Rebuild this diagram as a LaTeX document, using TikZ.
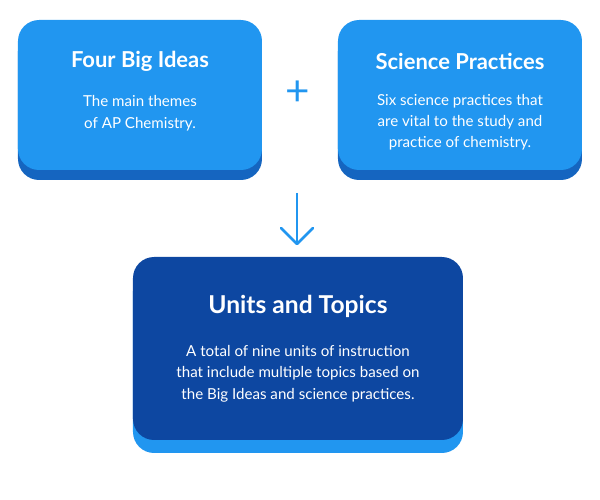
\documentclass[tikz,border=0pt]{standalone}
\usepackage{fontspec}
\setmainfont{Lato}
\usetikzlibrary{positioning}
\definecolor{lightblue}{HTML}{2196F0}
\definecolor{midblue}{HTML}{1565C0}
\definecolor{darkblue}{HTML}{0D47A1}

\begin{document}
\begin{tikzpicture}[x=0.02cm,y=-0.02cm]
	\tikzstyle{card}=[rounded corners=12pt, inner sep=0pt]
	\tikzstyle{title}=[text=white, font=\fontsize{12.5}{14}\selectfont\bfseries]
	\tikzstyle{body}=[text=white, align=center, font=\fontsize{8.6}{12.2}\selectfont]
	\useasboundingbox (0,0) rectangle (600,500);
	% top boxes
	\fill [card, midblue] (18,30) rectangle (262,180);
	\fill [card, lightblue] (18,20) rectangle (262,170);
	\fill [card, midblue] (338,30) rectangle (582,180);
	\fill [card, lightblue] (338,20) rectangle (582,170);
	\node [title] (ideas) at (140,61) {Four Big Ideas};
	\node [body, below=7pt of ideas] (ideastext) {The main themes\\of AP Chemistry.};
	\node [title] (practices) at (460,61) {Science Practices};
	\node [body, below=7pt of practices] (practicestext) {Six science practices that\\are vital to the study and\\practice of chemistry.};
	\node [text=lightblue, font=\fontsize{24}{24}\selectfont] (plus) at (298,93) {+};
	% bottom box
	\fill [card, lightblue] (133,270) rectangle (463,453);
	\fill [card, darkblue] (133,257) rectangle (463,440);
	\node [title, font=\fontsize{14}{16}\selectfont\bfseries] (units) at (298,306) {Units and Topics};
	\node [body, below=9pt of units] (unitstext) {A total of nine units of instruction\\that include multiple topics based on\\the Big Ideas and science practices.};
	% arrow
	\coordinate (top) at (297,193);
	\coordinate (tip) at (297,244);
	\draw [lightblue, line width=1.6pt] (top) -- (tip);
	\draw [lightblue, line width=1.6pt, line cap=round, line join=round] (281,228) -- (tip) -- (313,228);
\end{tikzpicture}
\end{document}
